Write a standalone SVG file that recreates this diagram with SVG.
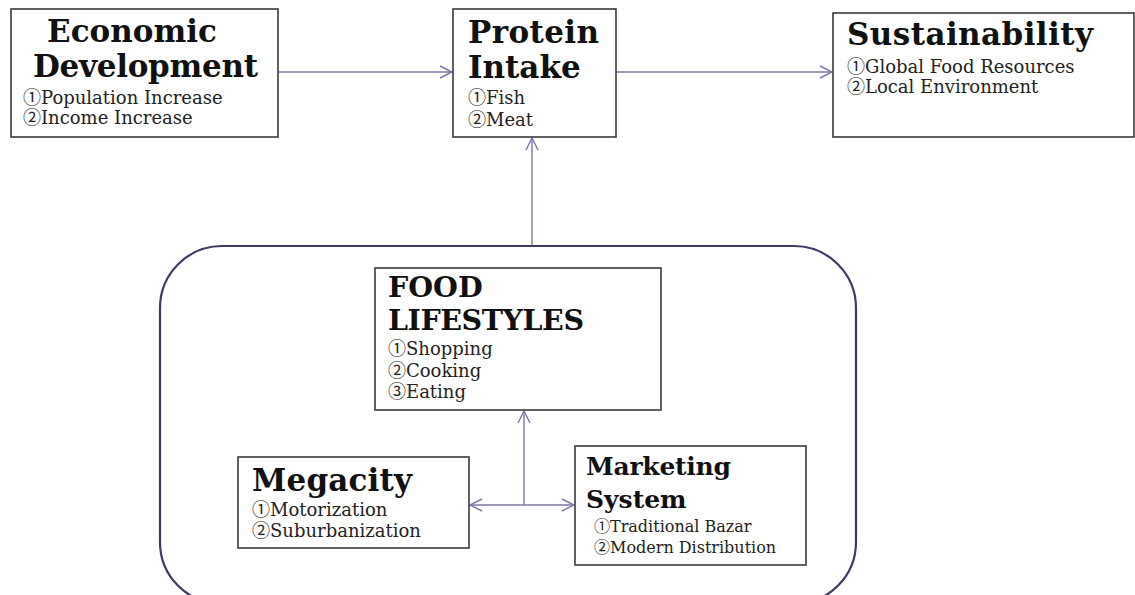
<svg xmlns="http://www.w3.org/2000/svg" width="1135" height="595" viewBox="0 0 1135 595">
<style>
.box{fill:#fff;stroke:#3a3a3a;stroke-width:1.6}
.ttl{font-family:"DejaVu Serif","Liberation Serif",serif;font-weight:bold;font-size:31px;fill:#111}
.sub{font-family:"DejaVu Serif","Liberation Serif","Noto Sans CJK JP",serif;font-size:18px;fill:#222}
.con{fill:none;stroke:#7878a8;stroke-width:1.4}
</style>
<defs>
<marker id="ah" viewBox="0 0 14 14" refX="13" refY="7" markerWidth="14" markerHeight="14" markerUnits="userSpaceOnUse" orient="auto-start-reverse">
<path d="M1,1 L13,7 L1,13" fill="none" stroke="#7878a8" stroke-width="1.4"/>
</marker>
</defs>
<rect width="1135" height="595" fill="#fff"/>
<rect id="container" x="160" y="246" width="696" height="358" rx="62" ry="62" fill="none" stroke="#3c3c64" stroke-width="2.2"/>
<g id="connectors">
<line class="con" x1="278" y1="72" x2="452" y2="72" marker-end="url(#ah)"/>
<line class="con" x1="616" y1="72" x2="832" y2="72" marker-end="url(#ah)"/>
<line class="con" x1="532" y1="245" x2="532" y2="138" marker-end="url(#ah)"/>
<line class="con" x1="524" y1="505" x2="524" y2="411" marker-end="url(#ah)"/>
<line class="con" x1="470" y1="505" x2="574" y2="505" marker-start="url(#ah)" marker-end="url(#ah)"/>
</g>
<g id="economic">
<rect class="box" x="11" y="9" width="267" height="128"/>
<text class="ttl" x="47" y="42">Economic</text>
<text class="ttl" x="33" y="77" textLength="225">Development</text>
<text class="sub" x="23" y="104">①Population Increase</text>
<text class="sub" x="23" y="124">②Income Increase</text>
</g>
<g id="protein">
<rect class="box" x="453" y="9" width="163" height="128"/>
<text class="ttl" x="468" y="43" textLength="131">Protein</text>
<text class="ttl" x="468" y="78">Intake</text>
<text class="sub" x="468" y="104">①Fish</text>
<text class="sub" x="468" y="126">②Meat</text>
</g>
<g id="sustainability">
<rect class="box" x="833" y="13" width="301" height="124"/>
<text class="ttl" x="847" y="45" textLength="246">Sustainability</text>
<text class="sub" x="847" y="73">①Global Food Resources</text>
<text class="sub" x="847" y="93">②Local Environment</text>
</g>
<g id="food">
<rect class="box" x="375" y="268" width="286" height="142"/>
<text class="ttl" x="388" y="297" style="font-size:28.5px">FOOD</text>
<text class="ttl" x="388" y="330" style="font-size:28.5px" textLength="196">LIFESTYLES</text>
<text class="sub" x="388" y="355">①Shopping</text>
<text class="sub" x="388" y="377">②Cooking</text>
<text class="sub" x="388" y="398">③Eating</text>
</g>
<g id="megacity">
<rect class="box" x="238" y="457" width="231" height="91"/>
<text class="ttl" x="252" y="491" textLength="160">Megacity</text>
<text class="sub" x="252" y="516">①Motorization</text>
<text class="sub" x="252" y="537">②Suburbanization</text>
</g>
<g id="marketing">
<rect class="box" x="575" y="446" width="231" height="119"/>
<text class="ttl" x="586" y="475" style="font-size:25px" textLength="145">Marketing</text>
<text class="ttl" x="586" y="508" style="font-size:25px">System</text>
<text class="sub" x="594" y="532" style="font-size:16px">①Traditional Bazar</text>
<text class="sub" x="594" y="553" style="font-size:16px">②Modern Distribution</text>
</g>
</svg>
